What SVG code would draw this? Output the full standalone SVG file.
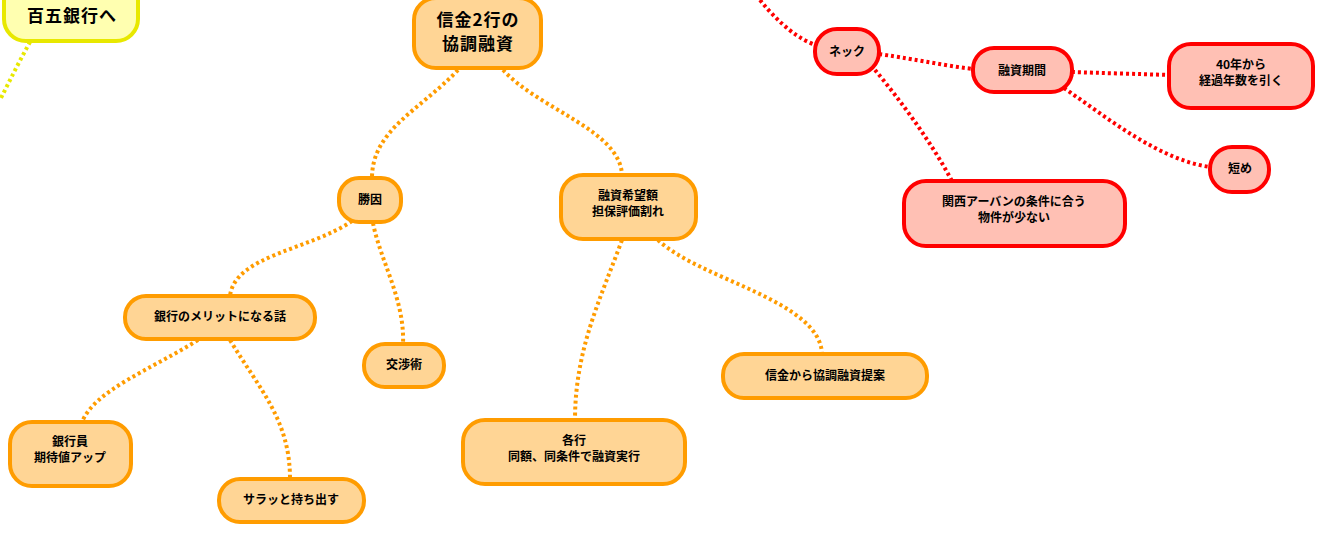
<svg xmlns="http://www.w3.org/2000/svg" width="1326" height="533" viewBox="0 0 1326 533">
<style>
.o rect{fill:#ffd595;stroke:#ff9c00;stroke-width:4}
.r rect{fill:#ffc0b4;stroke:#ff0000;stroke-width:4}
.y rect{fill:#ffffb0;stroke:#e8e800;stroke-width:4}
text{font-family:"Noto Sans CJK JP","Noto Sans",sans-serif;font-weight:bold;font-size:12px;text-anchor:middle;fill:#000}
.big{font-size:17px;letter-spacing:1px}
.c path{fill:none;stroke-width:4;stroke-dasharray:3 3}
.co{stroke:#ff9c00}
.cr{stroke:#ff0000}
.cy{stroke:#e8e800}
</style>
<rect width="1326" height="533" fill="#fff"/>
<g class="c">
<path class="cy" d="M30,42 C20,60 10,80 0,100"/>
<path class="co" d="M458,70 C420,110 372,130 372,178"/>
<path class="co" d="M503,70 C540,110 620,130 622,175"/>
<path class="co" d="M352,221 C310,250 235,255 230,296"/>
<path class="co" d="M373,223 C380,260 405,300 403,344"/>
<path class="co" d="M198,340 C150,370 95,390 82,422"/>
<path class="co" d="M230,340 C260,390 290,420 290,479"/>
<path class="co" d="M622,240 C600,300 575,350 575,420"/>
<path class="co" d="M658,240 C700,280 820,300 822,354"/>
<path class="cr" d="M760,0 C780,25 800,40 816,45"/>
<path class="cr" d="M879,54 C920,60 940,65 973,69"/>
<path class="cr" d="M875,70 C900,100 930,140 952,181"/>
<path class="cr" d="M1072,72 C1100,73 1140,74 1169,75"/>
<path class="cr" d="M1064,88 C1110,120 1160,160 1210,167"/>
</g>
<g id="n-hyakugo" class="y"><rect x="4" y="-22" width="134" height="63" rx="22"/><text class="big" x="72" y="22">百五銀行へ</text></g>
<g id="n-main" class="o"><rect x="414" y="-2" width="127" height="70" rx="22"/><text class="big" x="478" y="26">信金2行の</text><text class="big" x="478" y="50">協調融資</text></g>
<g id="n-shoin" class="o"><rect x="339" y="178" width="62" height="44" rx="20"/><text x="370" y="204">勝因</text></g>
<g id="n-kibo" class="o"><rect x="561" y="175" width="135" height="64" rx="22"/><text x="628" y="200">融資希望額</text><text x="628" y="216">担保評価割れ</text></g>
<g id="n-merit" class="o"><rect x="125" y="296" width="190" height="43" rx="21"/><text x="220" y="321">銀行のメリットになる話</text></g>
<g id="n-kosho" class="o"><rect x="364" y="344" width="80" height="43" rx="21"/><text x="404" y="369">交渉術</text></g>
<g id="n-ginkoin" class="o"><rect x="10" y="422" width="121" height="64" rx="22"/><text x="70" y="446">銀行員</text><text x="70" y="462">期待値アップ</text></g>
<g id="n-sara" class="o"><rect x="219" y="479" width="145" height="43" rx="21"/><text x="291" y="504">サラッと持ち出す</text></g>
<g id="n-kakko" class="o"><rect x="463" y="420" width="222" height="64" rx="22"/><text x="574" y="445">各行</text><text x="574" y="461">同額、同条件で融資実行</text></g>
<g id="n-teian" class="o"><rect x="723" y="354" width="204" height="44" rx="21"/><text x="825" y="380">信金から協調融資提案</text></g>
<g id="n-neck" class="r"><rect x="815" y="29" width="64" height="45" rx="22"/><text x="847" y="56">ネック</text></g>
<g id="n-kikan" class="r"><rect x="973" y="48" width="99" height="44" rx="21"/><text x="1022" y="75">融資期間</text></g>
<g id="n-40" class="r"><rect x="1169" y="44" width="144" height="64" rx="22"/><text x="1241" y="69">40年から</text><text x="1241" y="85">経過年数を引く</text></g>
<g id="n-mijika" class="r"><rect x="1210" y="147" width="59" height="45" rx="22"/><text x="1240" y="173">短め</text></g>
<g id="n-kansai" class="r"><rect x="904" y="181" width="221" height="65" rx="22"/><text x="1014" y="206">関西アーバンの条件に合う</text><text x="1014" y="222">物件が少ない</text></g>
</svg>
